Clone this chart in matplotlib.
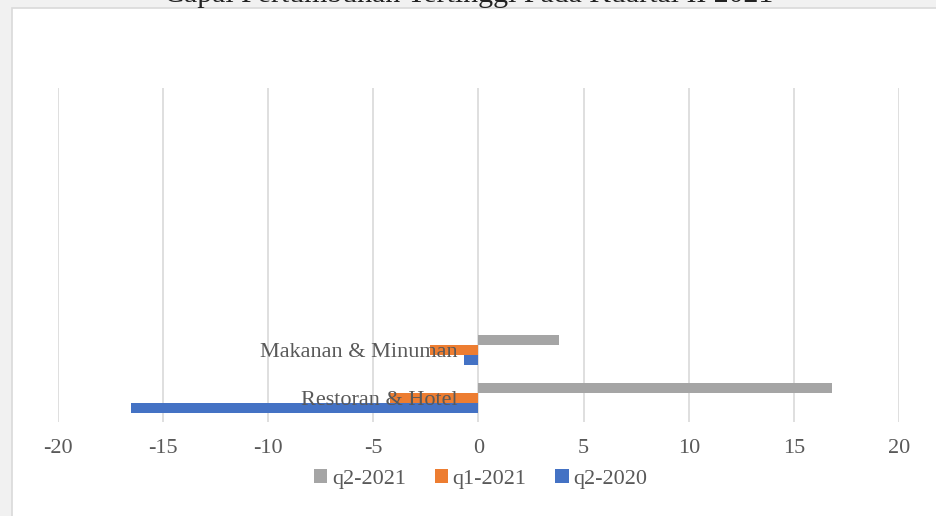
import matplotlib
matplotlib.use("Agg")
import matplotlib.pyplot as plt
import matplotlib.transforms as mtransforms
from matplotlib.patches import Rectangle
import numpy as np

plt.rcParams['font.family'] = ['Liberation Serif', 'DejaVu Serif']
plt.rcParams['axes.unicode_minus'] = False

categories = ['Restoran & Hotel', 'Makanan & Minuman']
series_names = ['q2-2021', 'q1-2021', 'q2-2020']
q2_2021 = [16.8, 3.84]
q1_2021 = [-4.2, -2.3]
q2_2020 = [-16.53, -0.71]
colors = ['#A5A5A5', '#ED7D31', '#4472C4']
title = 'Capai Pertumbuhan Tertinggi Pada Kuartal II 2021'
txt = '#595959'

W, H = 937, 516
fig = plt.figure(figsize=(W / 100, H / 100), dpi=100)
fig.patch.set_facecolor('#F1F1F1')
# white chart area with thin border (left + top)
fig.patches.append(Rectangle((12 / W, -0.01), 1, 1.01 - 8 / H, transform=fig.transFigure,
                             facecolor='white', edgecolor='#D9D9D9', linewidth=1.2, zorder=-10))

ax = fig.add_axes([58 / W, 1 - 422 / H, (899 - 58) / W, (422 - 88) / H])
ax.set_facecolor('none')

y = np.arange(len(categories))
h = 0.21
for vals, off, name, c in zip([q2_2021, q1_2021, q2_2020], [h, 0, -h], series_names, colors):
    ax.barh(y + off, vals, height=h, color=c, label=name, zorder=2)

ax.set_xlim(-20, 20)
ax.set_ylim(-0.5, 6.5)
ax.set_xticks(np.arange(-20, 21, 5))
ax.xaxis.grid(True, color='#D9D9D9', linewidth=1.2)
ax.set_axisbelow(True)
ax.tick_params(axis='x', length=0, pad=12, labelsize=16, labelcolor=txt)
ax.set_yticks([])
for s in ['left', 'right', 'top', 'bottom']:
    ax.spines[s].set_visible(False)

# category labels sit next to the zero line, over the bars
lab_tr = ax.transData + mtransforms.ScaledTranslation(-21 / 100, -2 / 100, fig.dpi_scale_trans)
for yi, cat in zip(y, categories):
    ax.text(0, yi, cat, transform=lab_tr, ha='right', va='center', fontsize=16,
            color=txt, zorder=5)

fig.legend(loc='center', bbox_to_anchor=(0.513, 1 - 479 / H), ncol=3, frameon=False,
           fontsize=16, handlelength=0.6, handleheight=0.6, handletextpad=0.2,
           columnspacing=1.3, labelcolor=txt)

fig.text(0.5, 1 - 2 / H, title, ha='center', va='baseline', fontsize=21.5, color='#222222')

fig.savefig('out.png', dpi=100, facecolor=fig.get_facecolor())
